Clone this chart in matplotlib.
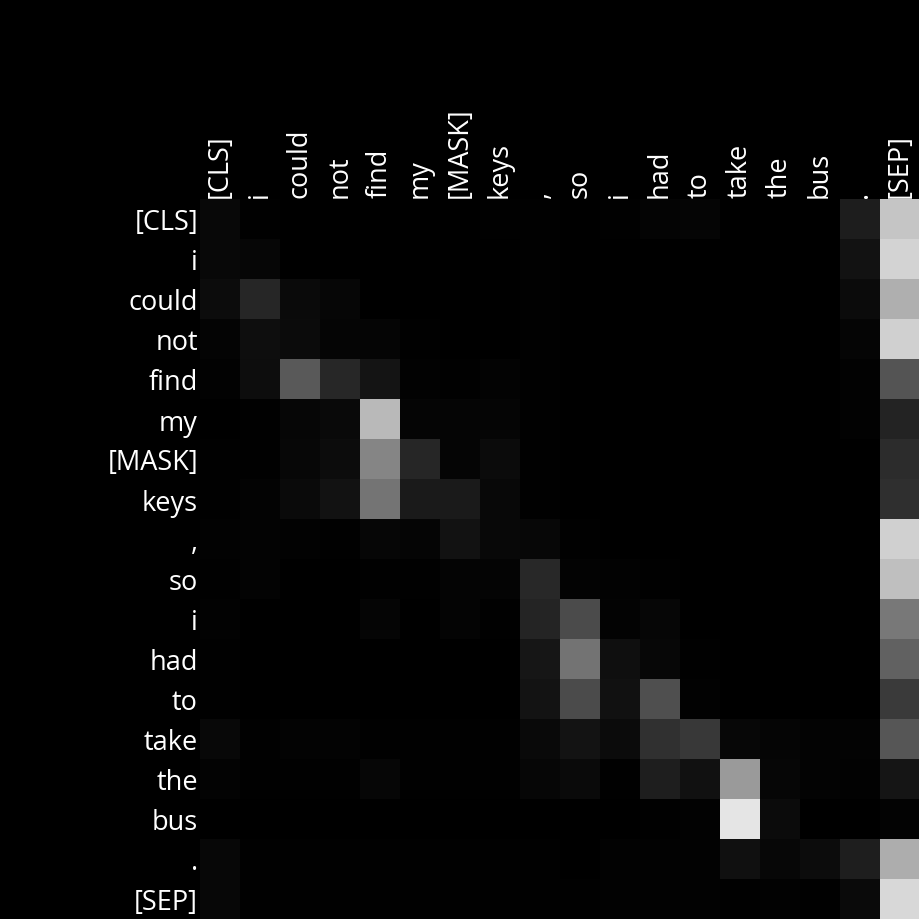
import numpy as np
import matplotlib
matplotlib.use("Agg")
import matplotlib.pyplot as plt

tokens = ["[CLS]", "i", "could", "not", "find", "my", "[MASK]", "keys", ",",
          "so", "i", "had", "to", "take", "the", "bus", ".", "[SEP]"]

# attention weights (grey level / 255), one list per query row
row_cls   = [8, 1, 0, 0, 0, 0, 0, 1, 1, 0, 1, 4, 5, 0, 0, 0, 29, 197]
row_i     = [8, 6, 0, 0, 0, 0, 0, 0, 1, 0, 0, 0, 0, 0, 0, 0, 18, 212]
row_could = [12, 38, 10, 6, 0, 0, 0, 0, 1, 0, 0, 0, 0, 0, 0, 0, 11, 175]
row_not   = [4, 14, 11, 5, 5, 1, 0, 0, 1, 0, 0, 0, 0, 0, 0, 0, 5, 208]
row_find  = [2, 13, 90, 39, 20, 2, 1, 3, 1, 0, 0, 0, 0, 0, 0, 0, 2, 84]
row_my    = [0, 1, 6, 9, 185, 5, 5, 5, 1, 0, 0, 0, 0, 0, 0, 0, 2, 35]
row_mask  = [1, 1, 7, 12, 133, 38, 5, 11, 1, 0, 0, 0, 0, 0, 0, 0, 0, 44]
row_keys  = [1, 3, 10, 18, 116, 26, 26, 8, 1, 0, 0, 0, 0, 0, 0, 0, 0, 47]
row_comma = [2, 3, 2, 1, 6, 5, 18, 8, 7, 1, 0, 0, 0, 0, 0, 0, 0, 208]
row_so    = [1, 3, 0, 0, 1, 1, 4, 4, 41, 3, 2, 1, 0, 0, 0, 0, 0, 191]
row_i2    = [2, 0, 0, 0, 5, 0, 4, 1, 36, 75, 3, 6, 0, 0, 0, 0, 0, 120]
row_had   = [1, 0, 0, 0, 0, 0, 0, 0, 22, 115, 15, 7, 1, 0, 0, 0, 0, 97]
row_to    = [1, 0, 0, 0, 0, 0, 0, 0, 19, 75, 17, 79, 2, 0, 0, 0, 0, 58]
row_take  = [8, 1, 3, 3, 1, 1, 1, 1, 9, 19, 11, 48, 56, 7, 5, 3, 3, 86]
row_the   = [3, 1, 1, 1, 6, 1, 1, 1, 6, 10, 1, 30, 17, 154, 6, 3, 2, 21]
row_bus   = [0, 0, 0, 0, 0, 0, 0, 0, 0, 0, 0, 1, 2, 229, 11, 0, 0, 3]
row_dot   = [7, 1, 1, 1, 1, 1, 1, 1, 1, 0, 2, 2, 2, 16, 7, 12, 30, 173]
row_sep   = [7, 1, 1, 1, 1, 1, 1, 1, 1, 1, 2, 2, 2, 1, 2, 1, 10, 216]

rows = [row_cls, row_i, row_could, row_not, row_find, row_my, row_mask, row_keys,
        row_comma, row_so, row_i2, row_had, row_to, row_take, row_the, row_bus,
        row_dot, row_sep]
attn = np.array(rows, dtype=float) / 255.0

plt.rcParams['font.family'] = ['Open Sans', 'DejaVu Sans']

fig = plt.figure(figsize=(9.2, 9.2), dpi=100, facecolor="black")
ax = fig.add_axes([200 / 920, 0, 720 / 920, 720 / 920])
ax.set_facecolor("black")
ax.imshow(attn, cmap="gray", vmin=0, vmax=1, aspect="auto", interpolation="nearest")

n = len(tokens)
ax.set_xticks(range(n))
ax.set_yticks(range(n))
ax.set_xticklabels(tokens, rotation=90, color="white", fontsize=19.5)
ax.set_yticklabels(tokens, color="white", fontsize=19.5)
ax.xaxis.tick_top()
ax.tick_params(length=0, pad=1.5)
for s in ax.spines.values():
    s.set_visible(False)

fig.savefig("out.png", facecolor="black", dpi=100)
